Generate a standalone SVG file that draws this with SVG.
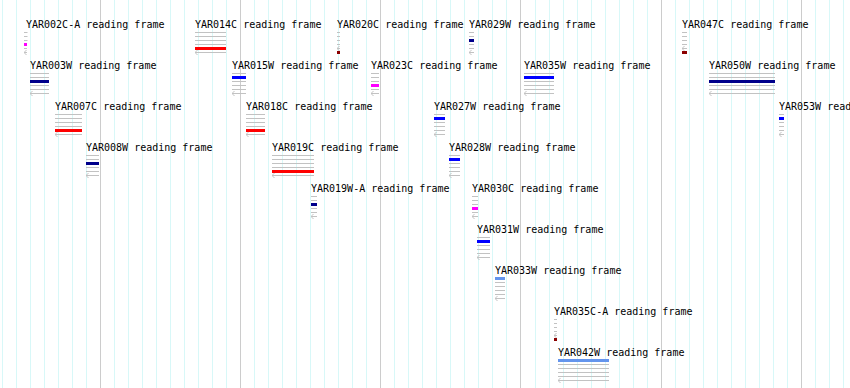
<svg xmlns="http://www.w3.org/2000/svg" width="850" height="388" viewBox="0 0 850 388">
<style>
.lbl{font-family:"DejaVu Sans Mono","Liberation Mono",monospace;font-size:10px;fill:#000}
.gl{stroke:#c2c2c2;stroke-width:1;fill:none;marker-end:url(#ah)}
.minor{stroke:#d8f8f8;stroke-width:1}
.major{stroke:#cccccc;stroke-width:1}
</style>
<defs>
<marker id="ah" markerUnits="userSpaceOnUse" markerWidth="4" markerHeight="6" viewBox="0 0 4 6" refX="3.5" refY="3" orient="auto">
<path d="M1,0.5 L3.5,3 L1,5.5" fill="none" stroke="#c2c2c2" stroke-width="1"/>
</marker>
</defs>
<rect width="850" height="388" fill="#ffffff"/>
<g id="grid">
<g class="minor">
<line x1="2.5" y1="0" x2="2.5" y2="388"/><line x1="16.5" y1="0" x2="16.5" y2="388"/><line x1="30.5" y1="0" x2="30.5" y2="388"/><line x1="44.5" y1="0" x2="44.5" y2="388"/><line x1="58.5" y1="0" x2="58.5" y2="388"/><line x1="72.5" y1="0" x2="72.5" y2="388"/><line x1="86.5" y1="0" x2="86.5" y2="388"/>
<line x1="114.5" y1="0" x2="114.5" y2="388"/><line x1="128.5" y1="0" x2="128.5" y2="388"/><line x1="142.5" y1="0" x2="142.5" y2="388"/><line x1="156.5" y1="0" x2="156.5" y2="388"/><line x1="170.5" y1="0" x2="170.5" y2="388"/><line x1="184.5" y1="0" x2="184.5" y2="388"/><line x1="198.5" y1="0" x2="198.5" y2="388"/><line x1="212.5" y1="0" x2="212.5" y2="388"/><line x1="226.5" y1="0" x2="226.5" y2="388"/>
<line x1="254.5" y1="0" x2="254.5" y2="388"/><line x1="268.5" y1="0" x2="268.5" y2="388"/><line x1="282.5" y1="0" x2="282.5" y2="388"/><line x1="296.5" y1="0" x2="296.5" y2="388"/><line x1="310.5" y1="0" x2="310.5" y2="388"/><line x1="324.5" y1="0" x2="324.5" y2="388"/><line x1="338.5" y1="0" x2="338.5" y2="388"/><line x1="352.5" y1="0" x2="352.5" y2="388"/><line x1="366.5" y1="0" x2="366.5" y2="388"/>
<line x1="394.5" y1="0" x2="394.5" y2="388"/><line x1="408.5" y1="0" x2="408.5" y2="388"/><line x1="422.5" y1="0" x2="422.5" y2="388"/><line x1="436.5" y1="0" x2="436.5" y2="388"/><line x1="450.5" y1="0" x2="450.5" y2="388"/><line x1="464.5" y1="0" x2="464.5" y2="388"/><line x1="478.5" y1="0" x2="478.5" y2="388"/><line x1="492.5" y1="0" x2="492.5" y2="388"/><line x1="506.5" y1="0" x2="506.5" y2="388"/>
<line x1="535.5" y1="0" x2="535.5" y2="388"/><line x1="549.5" y1="0" x2="549.5" y2="388"/><line x1="563.5" y1="0" x2="563.5" y2="388"/><line x1="577.5" y1="0" x2="577.5" y2="388"/><line x1="591.5" y1="0" x2="591.5" y2="388"/><line x1="605.5" y1="0" x2="605.5" y2="388"/><line x1="619.5" y1="0" x2="619.5" y2="388"/><line x1="633.5" y1="0" x2="633.5" y2="388"/><line x1="647.5" y1="0" x2="647.5" y2="388"/>
<line x1="675.5" y1="0" x2="675.5" y2="388"/><line x1="689.5" y1="0" x2="689.5" y2="388"/><line x1="703.5" y1="0" x2="703.5" y2="388"/><line x1="717.5" y1="0" x2="717.5" y2="388"/><line x1="731.5" y1="0" x2="731.5" y2="388"/><line x1="745.5" y1="0" x2="745.5" y2="388"/><line x1="759.5" y1="0" x2="759.5" y2="388"/><line x1="773.5" y1="0" x2="773.5" y2="388"/><line x1="787.5" y1="0" x2="787.5" y2="388"/>
<line x1="815.5" y1="0" x2="815.5" y2="388"/><line x1="829.5" y1="0" x2="829.5" y2="388"/><line x1="843.5" y1="0" x2="843.5" y2="388"/>
</g>
<g class="major">
<line x1="100.5" y1="0" x2="100.5" y2="388"/><line x1="240.5" y1="0" x2="240.5" y2="388"/><line x1="380.5" y1="0" x2="380.5" y2="388"/><line x1="520.5" y1="0" x2="520.5" y2="388"/><line x1="661.5" y1="0" x2="661.5" y2="388"/><line x1="801.5" y1="0" x2="801.5" y2="388"/>
</g>
</g>
<g id="connectors"/>
<g id="YAR002C-A">
<text class="lbl" x="26" y="28">YAR002C-A reading frame</text>
<path class="gl" d="M24,32.5H27.5M24,36.5H27.5M24,40.5H27.5M27,48.5H24M27,52.5H24"/>
<rect x="24" y="43" width="3" height="3" fill="#ff00ff"/>
</g>
<g id="YAR014C">
<text class="lbl" x="195" y="28">YAR014C reading frame</text>
<path class="gl" d="M195,32.5H226M195,36.5H226M195,40.5H226M226,44.5H195M226,52.5H195"/>
<rect x="195" y="47" width="31" height="3" fill="#ff0000"/>
</g>
<g id="YAR020C">
<text class="lbl" x="337" y="28">YAR020C reading frame</text>
<path class="gl" d="M337,32.5H340M337,36.5H340M337,40.5H340M340,44.5H337M340,48.5H337"/>
<rect x="337" y="51" width="3" height="3" fill="#8b0000"/>
</g>
<g id="YAR029W">
<text class="lbl" x="469" y="28">YAR029W reading frame</text>
<path class="gl" d="M469,32.5H474M469,36.5H474M474,44.5H469M474,48.5H469M474,52.5H469"/>
<rect x="469" y="39" width="5" height="3" fill="#00008b"/>
</g>
<g id="YAR047C">
<text class="lbl" x="682" y="28">YAR047C reading frame</text>
<path class="gl" d="M682,32.5H687M682,36.5H687M682,40.5H687M687,44.5H682M687,48.5H682"/>
<rect x="682" y="51" width="5" height="3" fill="#8b0000"/>
</g>
<g id="YAR003W">
<text class="lbl" x="30" y="69">YAR003W reading frame</text>
<path class="gl" d="M30,73.5H49M30,77.5H49M49,85.5H30M49,89.5H30M49,93.5H30"/>
<rect x="30" y="80" width="19" height="3" fill="#00008b"/>
</g>
<g id="YAR015W">
<text class="lbl" x="232" y="69">YAR015W reading frame</text>
<path class="gl" d="M232,73.5H246M232,81.5H246M246,85.5H232M246,89.5H232M246,93.5H232"/>
<rect x="232" y="76" width="14" height="3" fill="#0000ff"/>
</g>
<g id="YAR023C">
<text class="lbl" x="371" y="69">YAR023C reading frame</text>
<path class="gl" d="M371,73.5H379M371,77.5H379M371,81.5H379M379,89.5H371M379,93.5H371"/>
<rect x="371" y="84" width="8" height="3" fill="#ff00ff"/>
</g>
<g id="YAR035W">
<text class="lbl" x="524" y="69">YAR035W reading frame</text>
<path class="gl" d="M524,73.5H554M524,81.5H554M554,85.5H524M554,89.5H524M554,93.5H524"/>
<rect x="524" y="76" width="30" height="3" fill="#0000ff"/>
</g>
<g id="YAR050W">
<text class="lbl" x="709" y="69">YAR050W reading frame</text>
<path class="gl" d="M709,73.5H775M709,77.5H775M775,85.5H709M775,89.5H709M775,93.5H709"/>
<rect x="709" y="80" width="66" height="3" fill="#00008b"/>
</g>
<g id="YAR007C">
<text class="lbl" x="55" y="110">YAR007C reading frame</text>
<path class="gl" d="M55,114.5H82M55,118.5H82M55,122.5H82M82,126.5H55M82,134.5H55"/>
<rect x="55" y="129" width="27" height="3" fill="#ff0000"/>
</g>
<g id="YAR018C">
<text class="lbl" x="246" y="110">YAR018C reading frame</text>
<path class="gl" d="M246,114.5H265M246,118.5H265M246,122.5H265M265,126.5H246M265,134.5H246"/>
<rect x="246" y="129" width="19" height="3" fill="#ff0000"/>
</g>
<g id="YAR027W">
<text class="lbl" x="434" y="110">YAR027W reading frame</text>
<path class="gl" d="M434,114.5H445M434,122.5H445M445,126.5H434M445,130.5H434M445,134.5H434"/>
<rect x="434" y="117" width="11" height="3" fill="#0000ff"/>
</g>
<g id="YAR053W">
<text class="lbl" x="779" y="110">YAR053W reading frame</text>
<path class="gl" d="M779,114.5H784M779,122.5H784M784,126.5H779M784,130.5H779M784,134.5H779"/>
<rect x="779" y="117" width="5" height="3" fill="#0000ff"/>
</g>
<g id="YAR008W">
<text class="lbl" x="86" y="151">YAR008W reading frame</text>
<path class="gl" d="M86,155.5H99M86,159.5H99M99,167.5H86M99,171.5H86M99,175.5H86"/>
<rect x="86" y="162" width="13" height="3" fill="#00008b"/>
</g>
<g id="YAR019C">
<text class="lbl" x="272" y="151">YAR019C reading frame</text>
<path class="gl" d="M272,155.5H314M272,159.5H314M272,163.5H314M314,167.5H272M314,175.5H272"/>
<rect x="272" y="170" width="42" height="3" fill="#ff0000"/>
</g>
<g id="YAR028W">
<text class="lbl" x="449" y="151">YAR028W reading frame</text>
<path class="gl" d="M449,155.5H460M449,163.5H460M460,167.5H449M460,171.5H449M460,175.5H449"/>
<rect x="449" y="158" width="11" height="3" fill="#0000ff"/>
</g>
<g id="YAR019W-A">
<text class="lbl" x="311" y="192">YAR019W-A reading frame</text>
<path class="gl" d="M311,196.5H317M311,200.5H317M317,208.5H311M317,212.5H311M317,216.5H311"/>
<rect x="311" y="203" width="6" height="3" fill="#00008b"/>
</g>
<g id="YAR030C">
<text class="lbl" x="472" y="192">YAR030C reading frame</text>
<path class="gl" d="M472,196.5H478M472,200.5H478M472,204.5H478M478,212.5H472M478,216.5H472"/>
<rect x="472" y="207" width="6" height="3" fill="#ff00ff"/>
</g>
<g id="YAR031W">
<text class="lbl" x="477" y="233">YAR031W reading frame</text>
<path class="gl" d="M477,237.5H490M477,245.5H490M490,249.5H477M490,253.5H477M490,257.5H477"/>
<rect x="477" y="240" width="13" height="3" fill="#0000ff"/>
</g>
<g id="YAR033W">
<text class="lbl" x="495" y="274">YAR033W reading frame</text>
<path class="gl" d="M495,282.5H505M495,286.5H505M505,290.5H495M505,294.5H495M505,298.5H495"/>
<rect x="495" y="277" width="10" height="3" fill="#6495ed"/>
</g>
<g id="YAR035C-A">
<text class="lbl" x="554" y="315">YAR035C-A reading frame</text>
<path class="gl" d="M554,319.5H557M554,323.5H557M554,327.5H557M557,331.5H554M557,335.5H554"/>
<rect x="554" y="338" width="3" height="3" fill="#8b0000"/>
</g>
<g id="YAR042W">
<text class="lbl" x="558" y="356">YAR042W reading frame</text>
<path class="gl" d="M558,364.5H609M558,368.5H609M609,372.5H558M609,376.5H558M609,380.5H558"/>
<rect x="558" y="359" width="51" height="3" fill="#6495ed"/>
</g>
</svg>
